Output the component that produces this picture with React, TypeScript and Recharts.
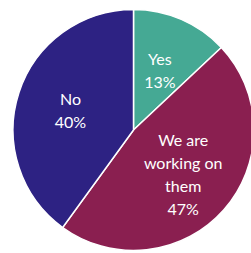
import React from "react";
import { PieChart, Pie, Cell } from "recharts";

const categories = ["Yes", "We are working on them", "No"];
const values = [13, 47, 40];
const colors = ["#45A994", "#8A1F50", "#2D2283"];

const data = categories.map((name, i) => ({ name, value: values[i] }));

// break a label into short lines, like the text boxes on the original slide
const wrap = (text: string, max = 10) => {
  const lines: string[] = [];
  let cur = "";
  text.split(" ").forEach((w) => {
    if (cur && (cur + " " + w).length > max) {
      lines.push(cur);
      cur = w;
    } else {
      cur = cur ? cur + " " + w : w;
    }
  });
  if (cur) lines.push(cur);
  return lines;
};

const RAD = Math.PI / 180;
const renderLabel = (props: any) => {
  const { cx, cy, midAngle, outerRadius, name, value } = props;
  const r = outerRadius * 0.55;
  const x = cx + r * Math.cos(-midAngle * RAD);
  const y = cy + r * Math.sin(-midAngle * RAD);
  const lines = [...wrap(name), value + "%"];
  const lh = 23;
  const top = y - ((lines.length - 1) * lh) / 2;
  return (
    <text x={x} y={top} fill="#fff" textAnchor="middle" dominantBaseline="central" fontSize={16} fontFamily="Lato, sans-serif">
      {lines.map((l, i) => (
        <tspan key={i} x={x} y={top + i * lh}>
          {l}
        </tspan>
      ))}
    </text>
  );
};

export default function App() {
  return (
    <div style={{ position: "absolute", left: 0, top: 0, width: 251, height: 253 }}>
      <PieChart width={251} height={253} margin={{ top: 0, right: 0, bottom: 0, left: 0 }}>
        <Pie
          data={data}
          dataKey="value"
          cx={133.5}
          cy={130}
          outerRadius={120.5}
          startAngle={90}
          endAngle={-270}
          stroke="#fff"
          strokeWidth={1.5}
          label={renderLabel}
          labelLine={false}
          isAnimationActive={false}
        >
          {data.map((d, i) => (
            <Cell key={d.name} fill={colors[i]} />
          ))}
        </Pie>
      </PieChart>
    </div>
  );
}
